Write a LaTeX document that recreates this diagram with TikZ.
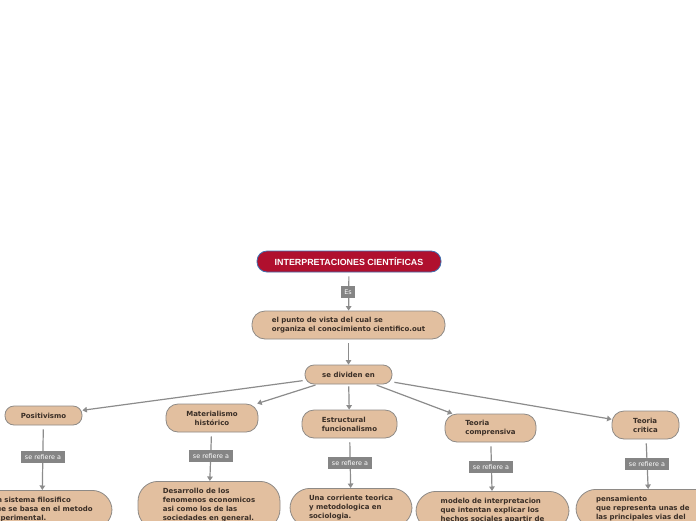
\documentclass[tikz,border=0pt]{standalone}
\usepackage{fontspec}
\setmainfont{DejaVu Sans}
\newfontfamily\titlefont{Liberation Sans}
\usetikzlibrary{arrows.meta}
\definecolor{tanfill}{HTML}{E2BF9F}
\definecolor{bordergray}{HTML}{8E8A86}
\definecolor{linegray}{HTML}{8C8C8C}
\definecolor{lblgray}{HTML}{858585}
\definecolor{titlered}{HTML}{B0102E}
\definecolor{titleblue}{HTML}{3F6FAF}
\definecolor{txt}{HTML}{3A2E26}
\tikzset{
  box/.style={draw=bordergray, fill=tanfill, line width=0.8pt, align=left,
    font=\fontsize{7}{9}\selectfont\bfseries, text=txt, inner xsep=0pt, inner ysep=0pt},
  catbox/.style={box, minimum height=28pt, rounded corners=12pt},
  childbox/.style={box, anchor=north, inner ysep=7pt, rounded corners=20pt},
  conn/.style={draw=linegray, line width=1.2pt, -{Triangle[width=5.5pt,length=4.5pt]}, shorten <=4pt},
  lbl/.style={fill=lblgray, text=white, font=\fontsize{6.4}{7}\selectfont, inner xsep=3.5pt, inner ysep=0pt, minimum height=12pt}
}
\begin{document}
\begin{tikzpicture}[x=1pt,y=-1pt]
\useasboundingbox[fill=white] (0,0) rectangle (696,520);
% main nodes
\node[draw=titleblue, fill=titlered, line width=0.8pt, rounded corners=10pt, minimum width=184pt, minimum height=21pt, inner sep=0pt, text=white, font=\titlefont\fontsize{8.9}{10}\selectfont\bfseries] (title) at (349,261.5) {INTERPRETACIONES CIENTÍFICAS};
\node[box, minimum width=193pt, minimum height=28pt, rounded corners=13pt] (punto) at (348.5,325) {el punto de vista del cual se\\organiza el conocimiento cientifico.out};
\node[box, minimum width=87pt, minimum height=19pt, rounded corners=9pt] (div) at (348.5,374.5) {se dividen en};
% categories
\node[box, minimum width=77pt, minimum height=19pt, rounded corners=9pt] (pos) at (43.5,415.5) {Positivismo};
\node[catbox, minimum width=92pt, align=center] (mat) at (212,418) {Materialismo\\histórico};
\node[catbox, minimum width=95pt] (est) at (349.5,424) {Estructural\\funcionalismo};
\node[catbox, minimum width=91pt] (tcomp) at (490.5,428) {Teoria\\comprensiva};
\node[catbox, minimum width=67pt] (tcrit) at (645.5,425) {Teoria\\critica};
% children
\node[childbox, minimum width=140pt] (c1) at (42,490) {Un sistema filosifico\\que se basa en el metodo\\experimental.};
\node[childbox, minimum width=142pt] (c2) at (209,481) {Desarrollo de los\\fenomenos economicos\\asi como los de las\\sociedades en general.};
\node[childbox, minimum width=122pt] (c3) at (351,488) {Una corriente teorica\\y metodologica en\\sociologia.};
\node[childbox, minimum width=153pt] (c4) at (492.5,491) {modelo de interpretacion\\que intentan explicar los\\hechos sociales apartir de};
\node[childbox, text width=106pt, inner xsep=20pt] (c5) at (649,489) {pensamiento\\que representa unas de\\las principales vias del};
% connectors
\draw[conn] (title) -- (punto);
\draw[conn] (punto) -- (div);
\draw[conn, shorten <=2pt] (div) -- (pos);
\draw[conn, shorten <=2pt] (div) -- (mat);
\draw[conn, shorten <=2pt] (div) -- (est);
\draw[conn, shorten <=2pt] (div) -- (tcomp);
\draw[conn, shorten <=2pt] (div) -- (tcrit);
\draw[conn] (pos) -- (c1);
\draw[conn] (mat) -- (c2);
\draw[conn] (est) -- (c3);
\draw[conn] (tcomp) -- (c4);
\draw[conn] (tcrit) -- (c5);
% labels
\node[lbl, inner xsep=3pt] (es) at (348,292) {Es};
\node[lbl] (l1) at (43,457) {se refiere a};
\node[lbl] (l2) at (211,456) {se refiere a};
\node[lbl] (l3) at (350,463) {se refiere a};
\node[lbl] (l4) at (491,467) {se refiere a};
\node[lbl] (l5) at (647,464) {se refiere a};
\end{tikzpicture}
\end{document}
